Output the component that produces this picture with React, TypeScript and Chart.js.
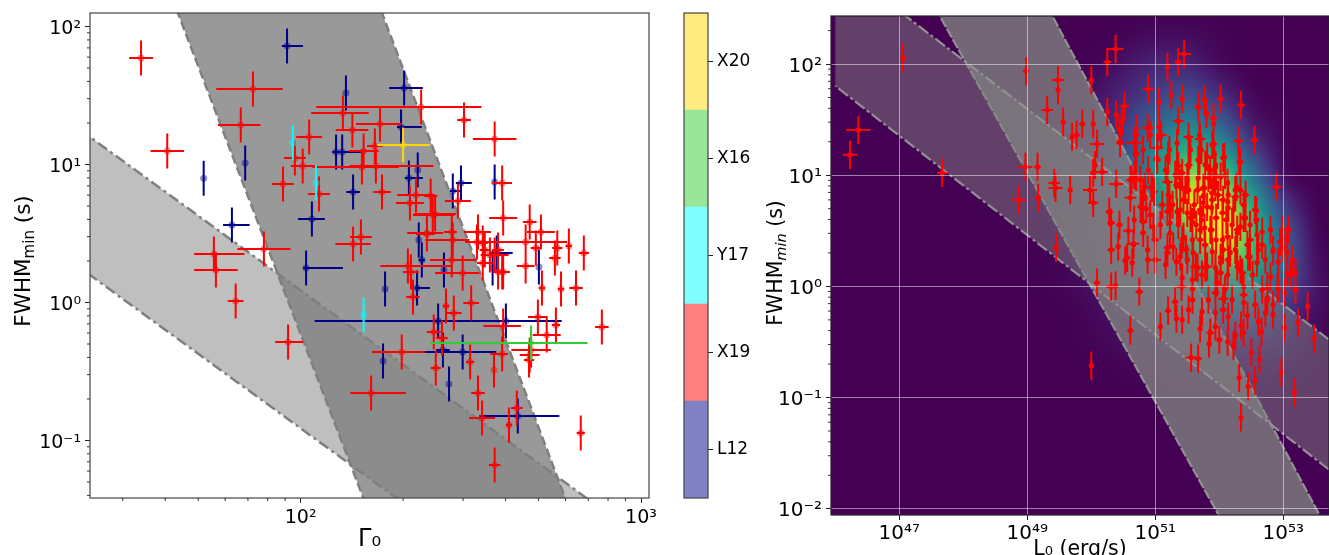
import React, { useEffect, useRef } from "react";
import { Chart, registerables } from "chart.js";

Chart.register(...registerables);

// ---- left panel: log10(Gamma0), log10(FWHMmin), Gamma0 error bars (dex) ----
const x19Gamma = [1.531,1.608,1.860,1.824,1.745,1.751,1.809,1.892,1.963,2.207,2.297,2.025,1.983,2.006,1.948,2.054,2.124,2.233,2.152,2.354,2.480,2.185,2.180,2.221,2.218,2.239,2.177,2.154,2.339,2.321,2.382,2.462,2.395,2.371,2.444,2.570,2.592,2.595,2.673,2.706,2.661,2.788,2.754,2.747,2.832,2.691,2.661,2.709,2.765,2.809,2.592,2.518,2.521,2.535,2.541,2.580,2.580,2.595,2.570,2.535,2.556,2.444,2.476,2.447,2.371,2.388,2.324,2.315,2.330,2.427,2.450,2.501,2.595,2.391,2.415,2.697,2.723,2.750,2.885,2.677,2.673,2.671,2.592,2.498,2.397,2.521,2.568,2.533,2.635,2.612,2.570,2.823];
const x19Fwhm = [1.772,1.098,1.547,1.286,.351,.236,.011,.388,-.286,-.656,-.359,1.199,1.047,.989,.859,.786,1.373,1.293,1.25,1.417,1.322,1.098,.982,.989,1.134,.801,.475,.424,.779,.721,.772,.736,.641,.504,.511,1.185,.866,.612,.583,.511,.438,.409,.395,.322,.359,.395,.264,.105,.098,.105,.221,.438,.511,.431,.38,.38,.221,.221,.344,.286,.344,.308,.214,.453,.496,.634,.221,.264,.04,-.025,-.076,-.004,-.17,-.214,-.257,-.105,-.236,-.163,-.178,-.344,-.38,-.417,-.373,-.431,-.475,-.656,-.489,-.837,-.764,-.888,-1.178,-.946];
const x19Lo = [.035,.049,.108,.067,.058,.064,.023,.078,.038,.061,.087,.038,.032,.035,.032,.032,.093,.07,.049,.308,.02,.044,.145,.078,.023,.026,.032,.052,.055,.041,.02,.038,.061,.058,.023,.064,.029,.041,.02,.041,.172,.009,.015,.017,.015,.015,.026,.009,.009,.02,.023,.035,.041,.015,.015,.017,.015,.02,.041,.017,.015,.064,.081,.081,.032,.058,.023,.081,.02,.009,.023,.023,.058,.02,.017,.029,.041,.012,.02,.058,.029,.015,.035,.012,.015,.02,.003,.038,.017,.009,.017,.012];
const x19Hi = [.035,.049,.087,.058,.09,.064,.023,.078,.044,.102,.067,.038,.032,.035,.032,.032,.076,.064,.047,.177,.02,.044,.108,.169,.023,.026,.032,.052,.055,.041,.02,.038,.061,.047,.015,.064,.029,.041,.02,.041,.122,.009,.015,.017,.015,.015,.026,.009,.009,.02,.023,.044,.038,.015,.015,.017,.023,.02,.041,.029,.015,.073,.049,.049,.023,.064,.023,.128,.02,.009,.023,.023,.052,.02,.017,.029,.041,.012,.02,.058,.029,.015,.017,.012,.015,.02,.003,.038,.017,.009,.017,.012];

const l12Gamma = [1.960,2.133,1.715,1.837,1.798,2.104,2.122,2.154,2.033,2.016,2.304,2.295,2.344,2.318,2.471,2.447,2.570,2.347,2.356,2.421,2.248,2.342,2.564,2.576,2.700,2.404,2.603,2.476,2.418,2.242,2.436,2.638];
const l12Fwhm = [1.859,1.518,.901,1.011,.562,1.091,1.091,.801,.605,.25,1.554,1.272,.96,.902,.866,.808,.873,.453,.308,.236,.098,.105,.25,.359,.257,-.134,-.134,-.359,-.344,-.424,-.591,-.822];
const l12Lo = [.015,0,0,0,.026,.012,.012,.02,.041,.009,.044,.012,0,.012,.015,.009,0,0,.009,.003,0,.006,0,.02,0,.363,.035,.131,.02,.003,0,.113];
const l12Hi = [.047,0,0,0,.052,.073,.055,.02,.038,.108,.055,.061,0,.041,.032,.026,0,0,.009,.003,0,.038,0,.047,0,.363,.035,.099,.02,.003,0,.122];

const y17Gamma = [1.977,2.045,2.185];
const y17Fwhm = [1.156,.866,-.091];
const y17Lo = [0,0,0];
const y17Hi = [0,0,0];
const x20Gamma = [2.301];
const x20Fwhm = [1.141];
const x20Lo = [.076];
const x20Hi = [.078];
const x16Gamma = [2.677];
const x16Fwhm = [-.293];
const x16Lo = [.297];
const x16Hi = [.166];
const FWHM_ERR = 0.127;

// allowed regions, left panel (log10 Gamma0, log10 FWHM) corners
const leftSteepGamma = [1.608,2.197,2.790,2.208];
const leftSteepFwhm = [2.3,-1.5,-1.5,2.3];
const leftShallowGamma = [1.3,2.95,2.35,1.3];
const leftShallowFwhm = [1.344,-1.615,-1.54,.344];

// ---- colour bar ----
const sampleNames = ["L12","X19","Y17","X16","X20"];
const sampleColors = ["#00008b","#ff0000","#00ffff","#32cd32","#ffd700"];
const sampleFills = ["#8080c5","#ff8080","#80ffff","#99e699","#ffeb80"];

// ---- right panel: log10(L0), log10(FWHMmin), L0 error (dex) ----
const lumLog = [46.23,46.36,47.06,47.67,48.98,49.48,49.48,49.31,49.56,49.86,49.77,49.70,48.97,49.16,49.42,49.44,49.67,48.87,49.17,49.45,49.98,50.38,50.25,50.00,51.19,51.36,51.45,50.89,51.06,51.25,51.42,51.77,51.67,52.02,52.34,50.52,50.25,50.39,50.48,50.44,50.03,51.36,51.80,51.91,51.91,50.88,51.06,50.70,50.70,51.09,51.52,51.69,51.70,51.91,52.30,52.55,50.09,50.45,50.67,50.69,50.70,51.03,51.22,51.34,51.03,51.20,51.81,51.69,52.08,52.31,50.06,50.03,50.17,50.67,50.61,50.70,50.39,50.03,50.61,50.94,50.81,50.98,51.19,51.36,51.42,51.52,51.39,51.22,51.47,51.67,51.77,51.86,51.94,51.91,52.02,51.89,52.06,52.25,52.27,52.89,52.38,52.58,52.58,50.77,50.28,50.31,50.44,50.67,50.81,50.86,50.58,50.97,51.00,51.19,51.23,51.39,51.50,51.58,51.70,51.72,51.77,51.88,52.05,52.13,52.38,52.33,52.48,52.80,52.98,53.08,52.95,53.06,53.14,52.67,52.84,52.48,52.13,52.06,52.28,51.70,51.42,51.19,51.28,51.00,50.88,50.64,50.56,50.31,50.42,50.66,51.63,51.81,52.02,52.28,52.59,53.11,52.80,51.50,51.39,50.09,50.31,50.38,50.75,51.41,51.58,51.58,51.31,51.20,51.33,51.42,51.08,50.61,51.70,51.86,51.94,51.84,52.00,52.13,52.22,52.25,52.14,52.06,51.94,52.06,51.94,52.38,52.38,52.44,52.34,52.38,52.66,52.72,52.75,52.84,52.84,52.75,52.92,53.02,53.19,53.38,53.02,53.23,53.48,52.97,53.17,52.63,52.50,52.56,52.45,52.31,52.34,50.00,51.56,51.67,50.53,50.88,51.19,51.59,51.66,51.78,52.02,52.17,52.28,52.45,52.72,52.84,53.00,53.19,53.06,52.91,52.75,52.02,52.13,52.36,52.38,51.97,51.58,51.42,50.45,50.63,50.84,50.80,50.95,51.02,51.20,51.34,51.39,51.52,51.20,51.23,51.34,51.52,51.67,51.75,51.89,51.94,51.86,51.94,52.06,52.13,51.75,51.89,51.70,51.86,52.14,52.25,52.22,52.56,52.41,52.28,52.59,52.05,51.70,51.55,51.44,51.23,50.81,50.66,52.33,53.06,52.98];
const fwhmLog = [1.183,1.407,2.054,1.021,1.937,1.856,1.766,1.587,1.479,1.461,1.362,1.344,1.075,1.075,.931,.886,.868,.779,.797,.348,.868,2.135,2.018,1.856,1.973,2.018,2.09,1.775,1.659,1.721,1.686,1.677,1.614,1.686,1.632,1.623,1.569,1.542,1.479,1.407,1.461,1.488,1.551,1.515,1.461,1.425,1.434,1.416,1.362,1.362,1.344,1.362,1.326,1.281,1.308,1.317,1.281,1.29,1.29,1.246,1.192,1.246,1.228,1.29,1.138,1.174,1.165,1.129,1.165,1.12,1.093,1.021,1.03,1.003,.958,.985,.922,.752,.797,.895,.85,.85,.94,1.084,1.021,1.075,.895,.806,.868,.976,.886,1.048,1.093,.958,.985,.841,.779,.806,.895,.895,.734,.68,.599,.716,.671,.572,.554,.599,.581,.698,.50,.536,.419,.671,.572,.689,.662,.581,.689,.599,.527,.509,.662,.761,.617,.536,.419,.509,.509,.509,.401,.303,.24,.374,.312,.267,.446,.33,.482,.419,.419,.348,.357,.24,.24,.213,.258,.33,.357,.383,.177,.177,.213,.177,.213,.105,.087,.24,.267,.033,-.003,.006,-.048,-.003,-.021,-.119,-.137,-.218,-.29,-.299,-.362,-.398,-.38,-.416,-.362,-.515,-.479,-.497,-.533,-.443,-.272,-.209,-.236,-.11,-.057,-.075,-.146,-.263,-.353,-.416,-.407,-.236,-.119,-.164,-.254,-.003,-.021,-.057,-.03,-.182,-.371,-.326,-.47,-.775,-.955,-.658,-.595,-.847,-.90,-.82,-1.179,-.712,-.64,-.649,.231,.33,.303,.303,.168,.168,.258,.303,.213,.267,.24,.33,.348,.123,.123,-.012,-.101,.123,.105,.123,-.003,.033,.06,.078,1.30,.958,.895,.716,.886,1.156,1.138,1.111,.931,1.093,.823,.689,.671,.868,1.138,.886,1.272,1.075,1.003,.895,1.156,.931,.752,.779,.662,.509,.707,.868,.689,.689,.617,.509,.464,.419,.509,.617,.446,.482,.482,.374,1.12,.419,.446];
const lumErr = [.11,.19,.03,.08,.05,.09,.02,.09,.02,.05,.05,.03,.11,.05,.09,.11,.02,.11,.05,.02,.11,.125,.06,.02,.02,.06,.11,.09,.02,.02,.02,.05,.06,.05,.06,.08,.02,.03,.02,.02,.02,.08,.05,.06,.02,.09,.05,.02,.06,.09,.08,.02,.08,.06,.08,.06,.11,.06,.125,.03,.05,.09,.02,.02,.06,.03,.03,.03,.03,.02,.03,.05,.09,.03,.06,.03,.11,.08,.09,.03,.05,.06,.08,.05,.05,.03,.05,.03,.06,.02,.03,.03,.02,.03,.03,.05,.06,.06,.02,.08,.05,.02,.05,.05,.06,.06,.05,.03,.06,.03,.08,.03,.06,.05,.03,.02,.03,.02,.05,.03,.02,.05,.05,.02,.06,.03,.06,.02,.03,.06,.05,.02,.03,.05,.02,.02,.05,.05,.02,.05,.03,.06,.02,.09,.02,.03,.05,.06,.03,.09,.08,.08,.03,.03,.02,.06,.02,.02,.03,.05,.08,.02,.06,.08,.03,.05,.05,.05,.02,.02,.02,.05,.02,.06,.03,.02,.05,.02,.03,.02,.02,.06,.02,.08,.06,.06,.02,.02,.02,.02,.02,.02,.03,.03,.02,.03,.02,.03,.05,.02,.02,.02,.02,.02,.02,.02,.02,.02,.02,.02,.02,.02,.08,.06,.02,.03,.05,.03,.05,.05,.03,.03,.03,.05,.02,.03,.02,.03,.03,.02,.02,.05,.02,.06,.03,.05,.03,.03,.05,.06,.05,.03,.06,.03,.03,.02,.03,.06,.03,.05,.03,.02,.03,.05,.03,.03,.03,.03,.05,.03,.02,.05,.03,.03,.02,.03,.02,.05,.03,.05,.02,.03,.03,.03,.03,.03,.05,.03,.05,.03,.03,.02,.03,.03];
// the crowded core of the right panel
const lumLogCore = [51.72,51.78,51.83,51.75,51.81,51.92,51.95,51.98,51.88,51.95,52.09,52.14,52.11,52.20,51.66,51.61,51.64,51.58,51.78,51.89,51.95,52.14,51.94,51.73,51.50,51.44,51.33,51.27,51.16,51.11,51.08,51.36,51.48,51.33,51.16,50.92,50.77,50.89,52.33,52.41,52.48,52.61,52.67,52.44,52.25,52.33,52.52,52.67,52.09,52.20,51.83,51.73,51.52,52.56,52.61,52.92,51.55,51.31,50.92,50.81];
const fwhmLogCore = [1.228,1.093,.976,.814,.716,1.183,.994,.823,.707,.617,1.003,.823,.599,.554,.868,.734,.554,.419,.374,.312,.419,.24,.168,.105,.958,.779,.913,.734,1.048,.734,.554,.554,.33,.222,.195,.644,.958,1.048,.868,.823,.554,.33,.491,.374,.33,.15,.105,-.03,-.03,-.119,-.119,-.227,-.209,-.164,-.317,.222,1.228,1.003,1.362,1.228];
const lumErrCore = [.03,.05,.03,.02,.06,.03,.05,.03,.02,.05,.03,.06,.03,.02,.03,.05,.02,.03,.05,.03,.06,.03,.02,.05,.03,.03,.06,.03,.02,.05,.03,.03,.02,.05,.03,.03,.06,.03,.02,.03,.05,.03,.02,.03,.05,.03,.02,.03,.03,.02,.05,.02,.03,.02,.03,.02,.03,.05,.03,.03];

// allowed regions, right panel
const rightSteepLum = [47.47,52.13,53.70,49.235];
const rightSteepFwhm = [2.6,-2.2,-2.2,2.6];
const rightShallowLum = [46.0,54.0,54.0,46.0];
const rightShallowFwhm = [2.916,-.605,-1.775,1.803];

// density map behind the right panel (viridis level)
const densityLum = [49,49.5,50,50.5,51,51.5,52,52.5,53,53.5,54];
const densityFwhm = [2.5,2.25,2,1.75,1.5,1.25,1,.75,.5,.25,0,-.25,-.5,-.75,-1,-1.25];
const density = [
  [0,0,0,0,0,0,0,0,0,0,0],
  [0,0,0,.01,.03,.03,.01,0,0,0,0],
  [0,0,.01,.05,.10,.10,.03,0,0,0,0],
  [0,.01,.04,.10,.18,.22,.12,.02,0,0,0],
  [0,.01,.06,.16,.30,.40,.28,.07,.01,0,0],
  [0,.02,.08,.22,.45,.60,.52,.20,.02,0,0],
  [0,.02,.10,.26,.50,.80,.78,.40,.05,0,0],
  [0,.02,.10,.26,.45,.90,.95,.60,.18,.01,0],
  [0,.02,.08,.22,.35,.75,1,.70,.30,.03,0],
  [0,.01,.06,.18,.28,.55,.82,.65,.34,.05,0],
  [0,.01,.04,.12,.22,.40,.55,.50,.26,.06,0],
  [0,0,.02,.06,.12,.22,.30,.30,.15,.04,0],
  [0,0,.01,.03,.05,.10,.13,.12,.08,.02,0],
  [0,0,0,.01,.02,.04,.05,.05,.03,.01,0],
  [0,0,0,0,0,.01,.01,.01,.01,0,0],
  [0,0,0,0,0,0,0,0,0,0,0],
];
const viridis = [[68,1,84],[72,36,117],[65,68,135],[53,95,141],[42,120,142],[33,145,140],[34,168,132],[68,191,112],[122,209,81],[189,223,38],[253,231,37]];

const leftXTicks = [30,40,50,60,70,80,90,100,200,300,400,500,600,700,800,900,1000];
const leftYTicks = [.04,.05,.06,.07,.08,.09,.1,.2,.3,.4,.5,.6,.7,.8,.9,1,2,3,4,5,6,7,8,9,10,20,30,40,50,60,70,80,90,100];
const rightXTicks = [1e47,1e49,1e51,1e53,5.17e53];
const rightYTicks = [.01,.02,.03,.04,.05,.06,.07,.08,.09,.1,.2,.3,.4,.5,.6,.7,.8,.9,1,2,3,4,5,6,7,8,9,10,20,30,40,50,60,70,80,90,100,200];
const yTitleParts = ["FWHM","min"," (s)"];
const FONT = "'DejaVu Sans'";

const pow = (v: number) => Math.pow(10, v);
const isDecade = (v: number) => Math.abs(Math.log10(v) - Math.round(Math.log10(v))) < 1e-6;
const SUP: Record<string, string> = { "-": "\u207B", "0": "\u2070", "1": "\u00B9", "2": "\u00B2", "3": "\u00B3", "4": "\u2074", "5": "\u2075", "6": "\u2076", "7": "\u2077", "8": "\u2078", "9": "\u2079" };
const decadeLabel = (v: any) => {
  const n = Number(v);
  if (!isDecade(n)) return "";
  return "10" + String(Math.round(Math.log10(n))).split("").map((c) => SUP[c]).join("");
};
// two-line label with an empty first line nudges the text down, as mathtext does
const decadeLabelLow = (v: any) => {
  const s = decadeLabel(v);
  return s ? ["", s] : "";
};

function errorBars(xs: number[], ys: number[], lo: number[], hi: number[], yErr: number) {
  const out: { x: number; y: number }[] = [];
  const gap = { x: NaN, y: NaN };
  xs.forEach((x, i) => {
    if (lo[i] > 0 || hi[i] > 0) out.push({ x: pow(x - lo[i]), y: pow(ys[i]) }, { x: pow(x + hi[i]), y: pow(ys[i]) }, gap);
    out.push({ x: pow(x), y: pow(ys[i] - yErr) }, { x: pow(x), y: pow(ys[i] + yErr) }, gap);
  });
  return out;
}
const markers = (xs: number[], ys: number[]) => xs.map((x, i) => ({ x: pow(x), y: pow(ys[i]) }));
const polygon = (xs: number[], ys: number[]) => xs.map((x, i) => ({ x: pow(x), y: pow(ys[i]) }));

function bandDataset(xs: number[], ys: number[], fill: string, stroke: string, dash: number[], order: number, width: number) {
  return {
    data: polygon(xs, ys), showLine: true, pointRadius: 0, fill: "shape", backgroundColor: fill,
    borderColor: stroke, borderWidth: width, borderDash: dash, order,
  };
}
function sampleDatasets(xs: number[], ys: number[], lo: number[], hi: number[], color: string, marker: string, r: number, order: number, yErr = FWHM_ERR, width = 2) {
  return [
    { data: errorBars(xs, ys, lo, hi, yErr), showLine: true, pointRadius: 0, borderColor: color, borderWidth: width, fill: false, order },
    { data: markers(xs, ys), showLine: false, pointRadius: r, pointBorderWidth: 0, pointBackgroundColor: marker, backgroundColor: marker, order: order - 0.5 },
  ];
}

const framePlugin = (color: string, width: number) => ({
  id: "frame",
  afterDraw(chart: any) {
    const { ctx, chartArea: a } = chart;
    ctx.save();
    ctx.strokeStyle = color;
    ctx.lineWidth = width;
    ctx.strokeRect(a.left, a.top, a.right - a.left, a.bottom - a.top);
    ctx.restore();
  },
});

const minorTicksPlugin = (color: string, len: number) => ({
  id: "minorTicks",
  afterDraw(chart: any) {
    const { ctx, chartArea: a, scales } = chart;
    ctx.save();
    ctx.strokeStyle = color;
    ctx.lineWidth = 1;
    ctx.beginPath();
    for (const t of scales.x.ticks) {
      if (isDecade(t.value)) continue;
      const p = scales.x.getPixelForValue(t.value);
      if (p > a.right - 1) continue;
      ctx.moveTo(p, a.bottom);
      ctx.lineTo(p, a.bottom + len);
    }
    for (const t of scales.y.ticks) {
      if (isDecade(t.value)) continue;
      const p = scales.y.getPixelForValue(t.value);
      ctx.moveTo(a.left, p);
      ctx.lineTo(a.left - len, p);
    }
    ctx.stroke();
    ctx.restore();
  },
});

// y-axis title with a true subscript (the library's title has no rich text)
const yTitlePlugin = (baselineX: number, centerY: number, size: number, subSize: number, subItalic: boolean) => ({
  id: "yTitle",
  afterDraw(chart: any) {
    const { ctx } = chart;
    const fonts = [
      `${size}px ${FONT}`,
      `${subItalic ? "italic " : ""}${subSize}px ${FONT}`,
      `${size}px ${FONT}`,
    ];
    const widths = yTitleParts.map((t, i) => { ctx.font = fonts[i]; return ctx.measureText(t).width; });
    const total = widths[0] + widths[1] + widths[2];
    ctx.save();
    ctx.translate(baselineX, centerY + total / 2);
    ctx.rotate(-Math.PI / 2);
    ctx.fillStyle = "#000";
    ctx.textBaseline = "alphabetic";
    ctx.textAlign = "left";
    let x = 0;
    yTitleParts.forEach((t, i) => {
      ctx.font = fonts[i];
      ctx.fillText(t, x, i === 1 ? size * 0.2 : 0);
      x += widths[i];
    });
    ctx.restore();
  },
});

function catmull(p0: number, p1: number, p2: number, p3: number, t: number) {
  return 0.5 * (2 * p1 + (p2 - p0) * t + (2 * p0 - 5 * p1 + 4 * p2 - p3) * t * t + (3 * p1 - p0 - 3 * p2 + p3) * t * t * t);
}
function sampleDensity(lx: number, ly: number) {
  const fx = (lx - densityLum[0]) / (densityLum[1] - densityLum[0]);
  const fy = (densityFwhm[0] - ly) / (densityFwhm[0] - densityFwhm[1]);
  const nx = densityLum.length, ny = densityFwhm.length;
  if (fx < 0 || fy < 0 || fx >= nx - 1 || fy >= ny - 1) return 0;
  const ix = Math.floor(fx), iy = Math.floor(fy);
  const cell = (r: number, c: number) => density[Math.max(0, Math.min(ny - 1, r))][Math.max(0, Math.min(nx - 1, c))];
  const rows = [-1, 0, 1, 2].map((d) => catmull(cell(iy + d, ix - 1), cell(iy + d, ix), cell(iy + d, ix + 1), cell(iy + d, ix + 2), fx - ix));
  return Math.max(0, Math.min(1, catmull(rows[0], rows[1], rows[2], rows[3], fy - iy)));
}
function viridisAt(v: number) {
  const f = v * (viridis.length - 1);
  const i = Math.min(viridis.length - 2, Math.floor(f));
  const t = f - i;
  return viridis[i].map((c, k) => c + (viridis[i + 1][k] - c) * t);
}
const densityPlugin = {
  id: "density",
  beforeDraw(chart: any) {
    const { ctx, chartArea: a, scales } = chart;
    const w = Math.round(a.right - a.left), h = Math.round(a.bottom - a.top);
    const img = ctx.createImageData(w, h);
    for (let j = 0; j < h; j++) {
      const ly = Math.log10(scales.y.getValueForPixel(a.top + j + 0.5));
      for (let i = 0; i < w; i++) {
        const lx = Math.log10(scales.x.getValueForPixel(a.left + i + 0.5));
        const col = viridisAt(sampleDensity(lx, ly));
        const o = (j * w + i) * 4;
        img.data[o] = col[0]; img.data[o + 1] = col[1]; img.data[o + 2] = col[2]; img.data[o + 3] = 255;
      }
    }
    ctx.putImageData(img, Math.round(a.left), Math.round(a.top));
  },
};

const fitX = (h: number) => (s: any) => { s.height = h; s.paddingLeft = s.paddingRight = s.paddingTop = s.paddingBottom = 0; };
const fitY = (w: number) => (s: any) => { s.width = w; s.paddingLeft = s.paddingRight = s.paddingTop = s.paddingBottom = 0; };
const setTicks = (vals: number[]) => (s: any) => { s.ticks = vals.map((value) => ({ value, major: isDecade(value) })); };

function logAxis(min: number, max: number, ticks: number[], fontSize: number, title: string | null, titleSize: number, titlePad: any, fit: any, gridColor: string | null, isY: boolean, tickPad: number) {
  return {
    type: "logarithmic", min, max,
    afterBuildTicks: setTicks(ticks), afterFit: fit,
    border: { display: false },
    grid: {
      drawOnChartArea: !!gridColor, z: 1, tickLength: 5, lineWidth: 1,
      color: (c: any) => (c.tick && isDecade(c.tick.value) && gridColor ? gridColor : "rgba(0,0,0,0)"),
      tickColor: (c: any) => (c.tick && isDecade(c.tick.value) ? "#222" : "rgba(0,0,0,0)"),
    },
    ticks: {
      autoSkip: false, maxRotation: 0, minRotation: 0, padding: tickPad, color: "#000",
      font: { family: FONT, size: fontSize, lineHeight: isY ? 0.25 : 1.2 },
      callback: isY ? decadeLabelLow : decadeLabel,
    },
    title: title
      ? { display: true, text: title, color: "#000", font: { family: FONT, size: titleSize }, padding: titlePad }
      : { display: false },
  };
}
const baseOptions = (padding: any, scales: any) => ({
  responsive: false, animation: false, devicePixelRatio: 1,
  layout: { padding },
  plugins: { legend: { display: false }, tooltip: { enabled: false }, title: { display: false } },
  scales,
});

const leftConfig: any = {
  type: "scatter",
  data: {
    datasets: [
      ...sampleDatasets(x16Gamma, x16Fwhm, x16Lo, x16Hi, sampleColors[3], "rgba(50,205,50,.45)", 3.5, 1),
      ...sampleDatasets(x20Gamma, x20Fwhm, x20Lo, x20Hi, sampleColors[4], "rgba(255,215,0,.45)", 3.5, 2),
      ...sampleDatasets(y17Gamma, y17Fwhm, y17Lo, y17Hi, sampleColors[2], "rgba(0,255,255,.45)", 3.5, 3),
      ...sampleDatasets(x19Gamma, x19Fwhm, x19Lo, x19Hi, sampleColors[1], "rgba(255,0,0,.45)", 3.5, 4),
      ...sampleDatasets(l12Gamma, l12Fwhm, l12Lo, l12Hi, sampleColors[0], "rgba(0,0,139,.45)", 3.5, 5),
      bandDataset(leftShallowGamma, leftShallowFwhm, "rgba(128,128,128,.5)", "#7f7f7f", [11, 4, 3, 4], 10, 2.5),
      bandDataset(leftSteepGamma, leftSteepFwhm, "rgba(128,128,128,.8)", "#7f7f7f", [9, 4], 11, 2.5),
    ],
  },
  options: baseOptions({ left: 8, top: 13, right: 680, bottom: 0 }, {
    x: logAxis(pow(1.381), pow(3.0235), leftXTicks, 19, "\u0393\u2080", 24, { top: 0, bottom: 1 }, fitX(57), null, false, 4),
    y: logAxis(pow(-1.417), pow(2.098), leftYTicks, 19, null, 0, null, fitY(82), null, true, 4),
  }),
  plugins: [framePlugin("#444", 1.2), minorTicksPlugin("#333", 3), yTitlePlugin(30, 261, 21.5, 15, false)],
};

const colorbarConfig: any = {
  type: "bar",
  data: {
    labels: [""],
    datasets: sampleNames.map((n, i) => ({ label: n, data: [1], backgroundColor: sampleFills[i], barPercentage: 1, categoryPercentage: 1, borderWidth: 0 })),
  },
  options: baseOptions({ left: 684, top: 13, right: 0, bottom: 57 }, {
    x: { stacked: true, display: false },
    y: {
      position: "right", stacked: true, min: 0, max: 5,
      afterBuildTicks: setTicks(sampleNames.map((_, i) => i + 0.5)), afterFit: fitY(1329 - 708),
      border: { display: false },
      grid: { drawOnChartArea: false, tickLength: 5, tickColor: "#222" },
      ticks: { autoSkip: false, padding: 4, color: "#000", font: { family: FONT, size: 17 }, callback: (v: any) => sampleNames[Math.floor(Number(v))] },
    },
  }),
  plugins: [framePlugin("#444", 1.2)],
};

const rightConfig: any = {
  type: "scatter",
  data: {
    datasets: [
      ...sampleDatasets(lumLog.concat(lumLogCore), fwhmLog.concat(fwhmLogCore), lumErr.concat(lumErrCore), lumErr.concat(lumErrCore), "#ff0000", "#ff0000", 2.6, 1, FWHM_ERR, 2),
      bandDataset(rightShallowLum, rightShallowFwhm, "rgba(128,128,128,.5)", "#919191", [12, 3, 3, 3], 10, 2.2),
      bandDataset(rightSteepLum, rightSteepFwhm, "rgba(128,128,128,.8)", "#919191", [10, 2], 11, 2.2),
    ],
  },
  options: baseOptions({ left: 761, top: 16, right: 0, bottom: 0 }, {
    x: logAxis(pow(45.933), pow(53.714), rightXTicks, 20, "L\u2080 (erg/s)", 20.5, { top: 0, bottom: -7 }, fitX(40), "rgba(255,255,255,.5)", false, 2),
    y: logAxis(pow(-2.056), pow(2.432), rightYTicks, 20, null, 0, null, fitY(70), "rgba(255,255,255,.5)", true, 4),
  }),
  plugins: [densityPlugin, framePlugin("#222", 1.2), minorTicksPlugin("#333", 3), yTitlePlugin(782, 263, 20.5, 14.5, true)],
};

function Layer({ config, width = 1329 }: { config: any; width?: number }) {
  const ref = useRef<HTMLCanvasElement>(null);
  useEffect(() => {
    const chart = new Chart(ref.current as HTMLCanvasElement, config);
    return () => chart.destroy();
  }, [config]);
  return <canvas ref={ref} width={width} height={555} style={{ position: "absolute", left: 0, top: 0, width, height: 555 }} />;
}

export default function App() {
  return (
    <div style={{ position: "absolute", left: 0, top: 0, width: 1329, height: 555, overflow: "hidden", background: "#fff" }}>
      <Layer config={leftConfig} />
      <Layer config={colorbarConfig} />
      <Layer config={rightConfig} width={1333} />
    </div>
  );
}
